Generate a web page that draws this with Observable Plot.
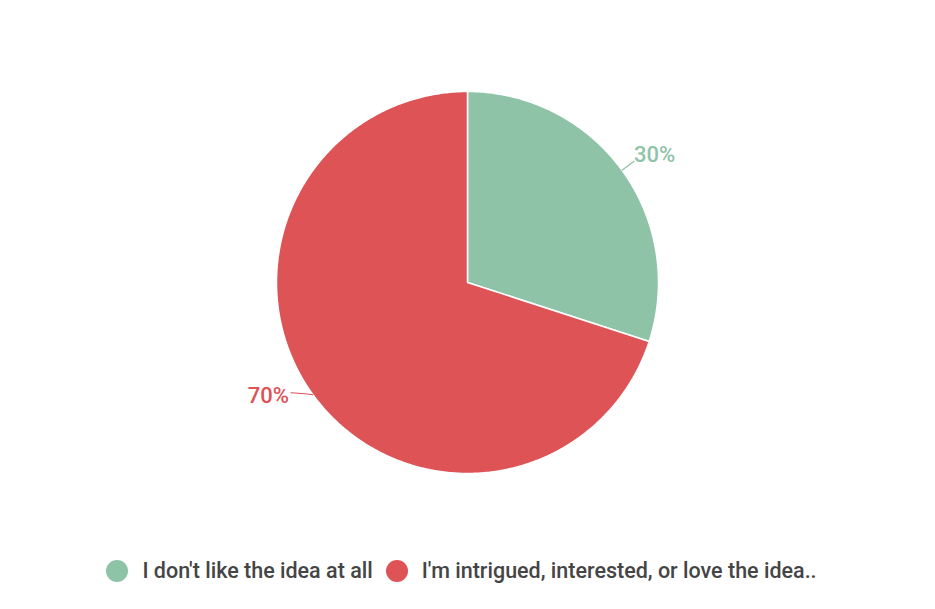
<!DOCTYPE html>
<html>
<head>
<meta charset="utf-8">
<script src="https://cdn.jsdelivr.net/npm/d3@7"></script>
<script src="https://cdn.jsdelivr.net/npm/@observablehq/plot@0.6"></script>
<style>
  body { margin: 0; background: #fff; font-family: Roboto, "Noto Sans", sans-serif; }
  #wrap { position: relative; width: 935px; height: 609px; }
  #legend { position: absolute; left: 0; top: 558px; width: 935px; display: flex; justify-content: center; align-items: center; padding-right: 12px; box-sizing: border-box; font-size: 21.5px; font-weight: 500; color: #454545; }
  .item { display: flex; align-items: center; margin: 0 6.5px; }
  .sw { width: 22px; height: 22px; border-radius: 50%; margin-right: 14px; }
</style>
</head>
<body>
<div id="wrap"><div id="chart"></div><div id="legend"></div></div>
<script>
const categories = ["I don't like the idea at all", "I'm intrigued, interested, or love the idea.."];
const values = [30, 70];
const labels = ["30%", "70%"];
const colors = ["#8FC3A7", "#DD5356"];

const W = 935, H = 540, CX = 467, CY = 282, R = 191;

const pie = d3.pie().sort(null).value(d => d.value)(categories.map((c, i) => ({cat: c, value: values[i], label: labels[i]})));

// polygon points for each slice (angles clockwise from top)
const pts = [];
for (const s of pie) {
  pts.push({cat: s.data.cat, x: 0, y: 0});
  const n = Math.max(2, Math.ceil((s.endAngle - s.startAngle) / 0.01));
  for (let k = 0; k <= n; k++) {
    const a = s.startAngle + (s.endAngle - s.startAngle) * k / n;
    pts.push({cat: s.data.cat, x: R * Math.sin(a), y: R * Math.cos(a)});
  }
}
const leaders = [];
const texts = [];
for (const s of pie) {
  const a = (s.startAngle + s.endAngle) / 2;
  const right = Math.sin(a) >= 0;
  const x0 = R * Math.sin(a), y0 = R * Math.cos(a);
  let x1, y1, x2, y2, tx, ty;
  if (right) {
    x1 = x0 + 12; y1 = y0 + 9; x2 = x1; y2 = y1; tx = x2; ty = y2 + 6;
  } else {
    x1 = x0 - 8; y1 = y0 + 1; x2 = x1 - 14; y2 = y1 + 1; tx = x2 - 2; ty = y2 - 3;
  }
  leaders.push({cat: s.data.cat, x: x0, y: y0}, {cat: s.data.cat, x: x1, y: y1}, {cat: s.data.cat, x: x2, y: y2});
  texts.push({cat: s.data.cat, label: s.data.label, x: tx, y: ty, anchor: right ? "start" : "end"});
}

const color = {domain: categories, range: colors};
const chart = Plot.plot({
  width: W, height: H,
  margin: 0,
  x: {domain: [-CX, W - CX], range: [0, W], axis: null},
  y: {domain: [-(H - CY), CY], range: [H, 0], axis: null},
  color,
  marks: [
    Plot.line(pts, {x: "x", y: "y", z: "cat", fill: "cat", stroke: "white", strokeWidth: 1.5, curve: "linear-closed"}),
    Plot.line(leaders, {x: "x", y: "y", z: "cat", stroke: "cat", strokeWidth: 1.2}),
    Plot.text(texts.filter(d => d.anchor === "start"), {x: "x", y: "y", text: "label", fill: "cat", textAnchor: "start", fontSize: 22, fontWeight: 500, fontFamily: "Roboto", dx: 0}),
    Plot.text(texts.filter(d => d.anchor === "end"), {x: "x", y: "y", text: "label", fill: "cat", textAnchor: "end", fontSize: 22, fontWeight: 500, fontFamily: "Roboto", dx: 0})
  ]
});
document.getElementById("chart").appendChild(chart);

const lg = document.getElementById("legend");
categories.forEach((c, i) => {
  const it = document.createElement("div"); it.className = "item";
  const sw = document.createElement("div"); sw.className = "sw"; sw.style.background = colors[i];
  const tx = document.createElement("span"); tx.textContent = c;
  it.appendChild(sw); it.appendChild(tx); lg.appendChild(it);
});
</script>
</body>
</html>
